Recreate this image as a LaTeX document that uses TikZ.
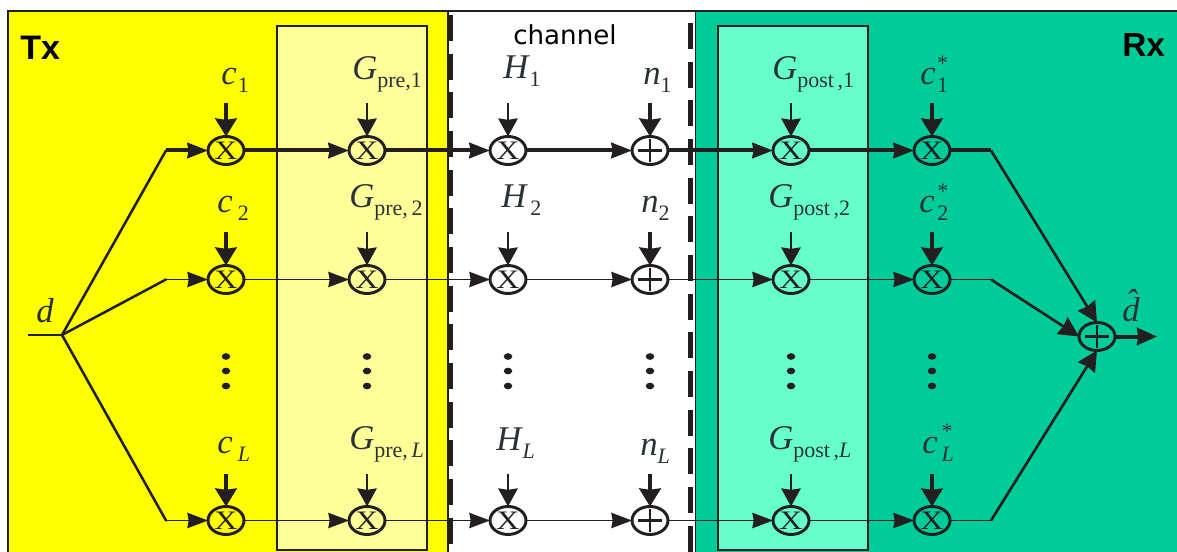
\documentclass[tikz,border=0pt]{standalone}
\usepackage{fontspec}
\usepackage{graphicx}
\setmainfont{Liberation Serif}
\newfontfamily\headsans{Liberation Sans}
\newfontfamily\chansans{DejaVu Sans}
\usetikzlibrary{arrows.meta,shapes.geometric}
\definecolor{txy}{HTML}{FFFF00}
\definecolor{txp}{HTML}{FFFF99}
\definecolor{rxg}{HTML}{00CC99}
\definecolor{rxp}{HTML}{66FFCC}
\definecolor{ink}{HTML}{231F20}
\definecolor{labelink}{HTML}{2B3235}
\newcommand{\bigf}{\fontsize{26}{26}\selectfont}
\newcommand{\subf}{\fontsize{16.5}{16.5}\selectfont}
% base, gap, subscript
\newcommand{\lab}[3]{{\bigf\itshape #1}\kern#2{\subf\raisebox{-6pt}{#3}}}
\newcommand{\labstar}[3]{{\bigf\itshape #1}\kern#2{\subf\raisebox{11pt}{*}\kern-8.25pt\raisebox{-6pt}{#3}}}
\tikzset{
  mixer/.style={ellipse,draw=ink,line width=2.2pt,inner sep=0pt,outer sep=0pt,minimum width=27pt,minimum height=21pt,text=ink,font=\fontsize{20}{20}\selectfont},
  adder/.style={mixer,path picture={
    \draw[ink,line width=1.6pt] ([xshift=-9pt]path picture bounding box.center)--([xshift=9pt]path picture bounding box.center);
    \draw[ink,line width=1.6pt] ([yshift=-8.5pt]path picture bounding box.center)--([yshift=8.5pt]path picture bounding box.center);}},
  lbl/.style={anchor=base west,inner sep=0pt,text=labelink},
  dotn/.style={ellipse,fill=ink,inner sep=0pt,minimum width=6.4pt,minimum height=5pt},
  sig/.style={draw=ink,line width=1.3pt,-{Stealth[length=15.5pt,width=11.5pt,inset=1pt]}},
  sigb/.style={sig,line width=3pt},
  inthick/.style={draw=ink,line width=3.6pt,-{Stealth[length=13.5pt,width=16pt,inset=1pt]}},
  inthin/.style={draw=ink,line width=2pt,-{Stealth[length=13.5pt,width=14.5pt,inset=1pt]}},
  fan/.style={draw=ink,line width=1.9pt,line cap=round},
  plain/.style={draw=ink,line width=1.3pt},
  panel/.style={draw=ink,line width=1.5pt},
  chandash/.style={draw=ink,line width=3.5pt,dash pattern=on 19.5pt off 9.5pt},
}
\newcommand{\xsym}{\scalebox{1.2}[1]{X}}
\begin{document}
\begin{tikzpicture}[x=.75pt,y=-.75pt]
\useasboundingbox (0,0) rectangle (1177,552);
\fill[white] (0,0) rectangle (1177,552);
% panels
\path[fill=txy] (8,11) rectangle (448,552);
\path[fill=rxg] (696,11) rectangle (1177,552);
\draw[ink,line width=1.2pt] (8,552)--(8,11)--(448,11)--(448,552);
\draw[ink,line width=2pt] (448,11)--(1177,11);
\draw[ink,line width=1.1pt] (695.5,11)--(695.5,552);
\path[panel,fill=txp] (277,26) rectangle (427,550);
\path[panel,fill=rxp] (718,26) rectangle (868,550);
\draw[chandash] (450.5,15)--(450.5,552);
\draw[chandash] (690.5,23)--(690.5,552);
% headings
\node[lbl,font=\headsans\bfseries\fontsize{25.5}{25.5}\selectfont,text=black] (tx) at (20,60) {Tx};
\node[lbl,font=\headsans\bfseries\fontsize{25}{25}\selectfont,text=black] (rx) at (1122,57) {Rx};
\node[lbl,font=\chansans\fontsize{19.6}{19.6}\selectfont,text=black] (chan) at (513,45) {channel};
% mixers
\foreach \r/\y in {a/150.5,b/279.5,l/520.5}{
  \node[mixer] (\r1) at (226,\y) {\xsym};
  \node[mixer] (\r2) at (367,\y) {\xsym};
  \node[mixer] (\r3) at (508,\y) {\xsym};
  \node[adder] (\r4) at (650,\y) {};
  \node[mixer] (\r5) at (791,\y) {\xsym};
  \node[mixer] (\r6) at (932,\y) {\xsym};
  \coordinate (\r s) at (166,\y);
  \coordinate (\r e) at (991,\y);
  \coordinate (\r i1) at (226,\y-47);
  \coordinate (\r i2) at (367,\y-47);
  \coordinate (\r i3) at (508,\y-47);
  \coordinate (\r i4) at (650,\y-47);
  \coordinate (\r i5) at (791,\y-47);
  \coordinate (\r i6) at (932,\y-47);
}
\node[adder] (sum) at (1097,336.5) {};
% dots
\foreach \x [count=\k] in {226,367,508,650,791,932}{
  \node[dotn] (dA\k) at (\x,356.5) {};
  \node[dotn] (dB\k) at (\x,371) {};
  \node[dotn] (dC\k) at (\x,386) {};
}
% labels
\node[lbl] (c1) at (221,85) {\lab{c}{1pt}{1}};
\node[lbl] (c2) at (217,213) {\lab{c}{4pt}{2}};
\node[lbl] (cL) at (217,453) {\lab{c}{4pt}{\itshape L}};
\node[lbl] (g1) at (352,80) {\lab{G}{0pt}{pre,1}};
\node[lbl] (g2) at (349,208) {\lab{G}{0pt}{pre,\,2}};
\node[lbl] (gL) at (349,449) {\lab{G}{0pt}{pre,\,\itshape L}};
\node[lbl] (h1) at (503,79) {\lab{H}{1pt}{1}};
\node[lbl] (h2) at (501,208) {\lab{H}{3pt}{2}};
\node[lbl] (hL) at (496,450) {\lab{H}{1pt}{\itshape L}};
\node[lbl] (n1) at (643,85) {\lab{n}{0pt}{1}};
\node[lbl] (n2) at (641,213) {\lab{n}{0pt}{2}};
\node[lbl] (nL) at (640,455) {\lab{n}{0pt}{\itshape L}};
\node[lbl] (p1) at (772,80) {\lab{G}{0pt}{post\,,1}};
\node[lbl] (p2) at (768,208) {\lab{G}{0pt}{post\,,2}};
\node[lbl] (pL) at (768,449) {\lab{G}{0pt}{post\,,\itshape L}};
\node[lbl] (s1) at (920,85) {\labstar{c}{1pt}{1}};
\node[lbl] (s2) at (919,213) {\labstar{c}{2pt}{2}};
\node[lbl] (sL) at (922,453) {\labstar{c}{3pt}{\itshape L}};
\node[lbl] (din) at (36,322) {{\bigf\itshape d}};
\node[lbl] (dout) at (1122,321) {{\bigf\itshape\^{d}}};
% input fan
\coordinate (d0) at (28,335);
\coordinate (d1) at (62,335);
\draw[plain] (d0)--(d1);
\draw[fan] (d1)--(as);
\draw[fan] (d1)--(bs);
\draw[fan] (d1)--(ls);
% branch chains
\draw[sigb] (as)--(a1.west);
\draw[sig] (bs)--(b1.west);
\draw[sig] (ls)--(l1.west);
\foreach \i/\j in {1/2,2/3,3/4,4/5,5/6}{
  \draw[sigb] (a\i.east)--(a\j.west);
  \draw[sig] (b\i.east)--(b\j.west);
  \draw[sig] (l\i.east)--(l\j.west);
}
% vertical inputs
\foreach \r in {a,b,l}{
  \draw[inthick] (\r i1)--(\r1.north);
  \draw[inthin] (\r i2)--(\r2.north);
  \draw[inthin] (\r i3)--(\r3.north);
  \draw[inthick] (\r i4)--(\r4.north);
  \draw[inthin] (\r i5)--(\r5.north);
  \draw[inthick] (\r i6)--(\r6.north);
}
% output combiner
\draw[draw=ink,line width=3pt] (a6.east)--(ae);
\draw[plain] (b6.east)--(be);
\draw[plain] (l6.east)--(le);
\draw[draw=ink,line width=2pt,-{Stealth[length=15pt,width=15pt,inset=1pt]}] (ae)--(sum.north);
\draw[draw=ink,line width=2pt,-{Stealth[length=15pt,width=15pt,inset=1pt]}] (be)--(sum.west);
\draw[draw=ink,line width=2pt,-{Stealth[length=15pt,width=15pt,inset=1pt]}] (le)--(sum.south);
\coordinate (out) at (1157,336.5);
\draw[draw=ink,line width=3pt,-{Stealth[length=15pt,width=13pt,inset=1pt]}] (sum.east)--(out);
\end{tikzpicture}
\end{document}
